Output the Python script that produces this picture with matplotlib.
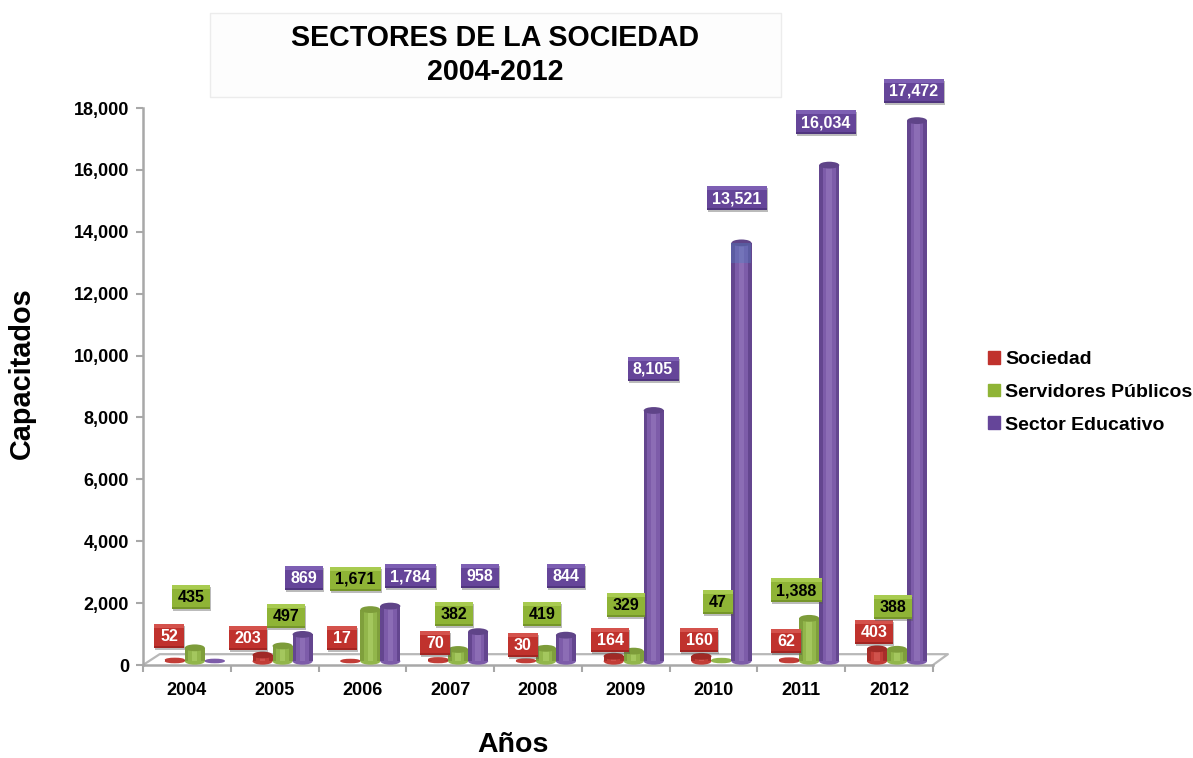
import matplotlib
matplotlib.use('Agg')
import matplotlib.pyplot as plt
from matplotlib.patches import Ellipse, Rectangle, Patch

plt.rcParams['font.family'] = ['Liberation Sans', 'DejaVu Sans']
plt.rcParams['font.weight'] = 'bold'
plt.rcParams['axes.labelweight'] = 'bold'

W, H = 1193, 758

years = ['2004', '2005', '2006', '2007', '2008', '2009', '2010', '2011', '2012']
sociedad = [52, 203, 17, 70, 30, 164, 160, 62, 403]
servidores = [435, 497, 1671, 382, 419, 329, 47, 1388, 388]
educativo = [20, 869, 1784, 958, 844, 8105, 13521, 16034, 17472]
y_ticks = [0, 2000, 4000, 6000, 8000, 10000, 12000, 14000, 16000, 18000]

# label box centres in pixels, width of the box comes from the text length
pos_soc = [(169, 636), (248, 638), (342, 638), (435, 643), (523, 645), (610, 640), (699, 640), (786, 641), (874, 632)]
pos_ser = [(191, 597), (286, 616), (355, 579), (454, 614), (542, 614), (626, 605), (718, 602), (796, 590), (893, 607)]
pos_edu = [None, (304, 578), (410, 576), (480, 576), (566, 576), (653, 369), (737, 198), (826, 122), (914, 91)]

# name, values, slot, cylinder edge / mid / light / top, positions, box mid / top / bottom, text colour
series = [
    ('Sociedad', sociedad, 0, '#a82e2a', '#c23d37', '#d0524c', '#a02a26', pos_soc, '#c0322d', '#d4524c', '#a32522', 'white'),
    ('Servidores Públicos', servidores, 1, '#7f9f3c', '#92b64b', '#a4c75e', '#7d9c3a', pos_ser, '#8fb436', '#a8cb50', '#76962a', 'black'),
    ('Sector Educativo', educativo, 2, '#64468f', '#7d5ca9', '#8c6db5', '#5f4488', pos_edu, '#654599', '#7d5fb3', '#50357f', 'white'),
]

fig = plt.figure(figsize=(W / 100, H / 100), dpi=100)
ax = fig.add_axes([143 / W, 1 - 665 / H, 790 / W, 557 / H])
ax.set_xlim(0, 9)
ax.set_ylim(0, 18000)

grey = '#a8a8a8'
for sp in ['top', 'right']:
    ax.spines[sp].set_visible(False)
for sp in ['left', 'bottom']:
    ax.spines[sp].set_color(grey)
    ax.spines[sp].set_linewidth(1.8)

ax.set_yticks(y_ticks)
ax.set_yticklabels([f'{v:,}' for v in y_ticks], fontsize=13)
ax.set_xticks(range(10))
ax.set_xticklabels([])
ax.set_xticks([i + 0.5 for i in range(9)], minor=True)
ax.set_xticklabels(years, minor=True, fontsize=13)
ax.tick_params(axis='x', which='minor', length=0, pad=12)
ax.tick_params(axis='x', which='major', length=5, color=grey, width=1.5)
ax.tick_params(axis='y', length=5, color=grey, width=1.5, pad=5)

# floor of the 3d chart
ax.plot([0, 0.19, 9.17, 9], [0, 350, 350, 0], color='#b8b8b8', lw=1.6, clip_on=False, zorder=1)

# cylinders: thin bars side by side make the shading
bar_w = 0.228
base = 120
n_strips = 11
ell_h = 220
for name, vals, k, c_edge, c_mid, c_light, c_top, pos, b_mid, b_top, b_bot, t_col in series:
    strip_cols = [c_edge, c_edge, c_mid, c_mid, c_light, c_light, c_light, c_mid, c_mid, c_edge, c_edge]
    for i, v in enumerate(vals):
        cx = i + 0.5 + 0.09 + (k - 1) * bar_w
        h_e = ell_h if v > 100 else 130
        ax.add_patch(Ellipse((cx, base), bar_w, h_e, color=c_mid, zorder=3 + k, lw=0))
        for s in range(n_strips):
            sx = cx - bar_w / 2 + (s + 0.5) * bar_w / n_strips
            ax.bar(sx, v, bottom=base, width=bar_w / n_strips * 1.05, color=strip_cols[s], lw=0, zorder=3 + k)
        ax.add_patch(Ellipse((cx, base + v), bar_w, h_e, color=c_top if v > 100 else c_mid,
                             zorder=3.5 + k, lw=0, clip_on=False))

# the blue-ish top of the 2010 cylinder
blue_from = 12990
ax.bar(6.5 + 0.09 + bar_w, educativo[6] + base - blue_from, bottom=blue_from, width=bar_w,
       color='#4f7fc0', alpha=0.4, lw=0, zorder=6)

ax.set_xlabel('Años', fontsize=20.5, labelpad=24)
ax.xaxis.label.set_position((0.468, 0))
ax.set_ylabel('Capacitados', fontsize=20.8, labelpad=27)
ax.yaxis.label.set_position((0, 0.524))

# overlay in pixels for the title box and the value boxes
ov = fig.add_axes([0, 0, 1, 1], zorder=5)
ov.set_xlim(0, W)
ov.set_ylim(H, 0)
ov.axis('off')

ov.add_patch(Rectangle((210, 13), 571, 84, facecolor='#fdfdfd', edgecolor='#ececec', lw=1))
ov.text(495, 38, 'SECTORES DE LA SOCIEDAD', ha='center', va='center', fontsize=20.6)
ov.text(495, 72, '2004-2012', ha='center', va='center', fontsize=20.6)

for name, vals, k, c_edge, c_mid, c_light, c_top, pos, b_mid, b_top, b_bot, t_col in series:
    for v, p in zip(vals, pos):
        if p is None:
            continue
        txt = f'{v:,}'
        if len(txt) == 2:
            w = 30
        elif len(txt) == 3:
            w = 38
        elif len(txt) == 5:
            w = 51
        else:
            w = 60
        h = 24
        x0, y0 = p[0] - w / 2, p[1] - h / 2
        ov.add_patch(Rectangle((x0 + 1, y0 + 2), w, h, facecolor='#555555', alpha=0.4, lw=0))
        ov.add_patch(Rectangle((x0, y0), w, h, facecolor=b_mid, lw=0))
        ov.add_patch(Rectangle((x0, y0), w, 4, facecolor=b_top, lw=0))
        ov.add_patch(Rectangle((x0, y0 + h - 2), w, 2, facecolor=b_bot, lw=0))
        ov.text(p[0], p[1] + 0.5, txt, ha='center', va='center', fontsize=11.5, color=t_col)

handles = [Patch(color=s[8]) for s in series]
fig.legend(handles, [s[0] for s in series], loc='upper left', bbox_to_anchor=(988 / W, 1 - 351 / H),
           frameon=False, fontsize=14, handlelength=0.62, handleheight=0.62, handletextpad=0.25,
           labelspacing=0.8, borderpad=0, borderaxespad=0)

plt.savefig('out.png', dpi=100)
